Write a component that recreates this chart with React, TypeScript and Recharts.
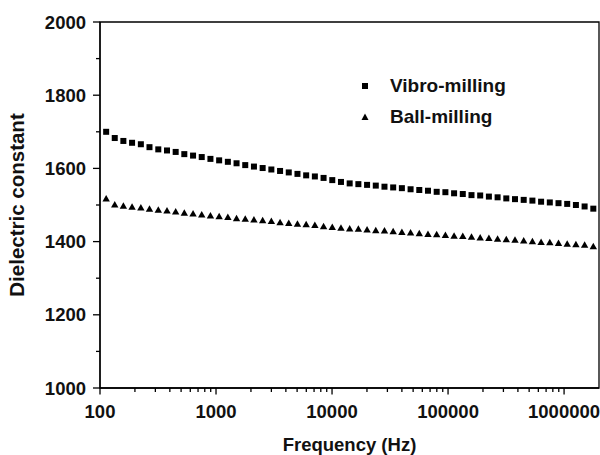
import React from "react";
import {
  ScatterChart,
  Scatter,
  XAxis,
  YAxis,
  Legend,
  ReferenceArea,
} from "recharts";

const frequencies = [
  113, 134, 159, 189, 225, 267, 318, 378, 449, 533, 634, 753, 895, 1064, 1265,
  1503, 1786, 2123, 2523, 2999, 3565, 4236, 5035, 5984, 7112, 8453, 10046,
  11940, 14191, 16866, 20045, 23823, 28314, 33651, 39994, 47534, 56494, 67143,
  79799, 94842, 112720, 133968, 159221, 189234, 224905, 267301, 317687, 377572,
  448745, 533335, 633870, 753356, 895365, 1064143, 1264736, 1503142, 1786488,
];

const vibroMilling = [
  1700, 1683, 1675, 1670, 1666, 1658, 1652, 1649, 1645, 1639, 1635, 1631, 1626,
  1622, 1618, 1614, 1609, 1605, 1601, 1597, 1593, 1589, 1585, 1581, 1578, 1574,
  1568, 1563, 1559, 1557, 1555, 1553, 1550, 1548, 1546, 1543, 1541, 1539, 1536,
  1535, 1532, 1530, 1527, 1526, 1523, 1521, 1518, 1516, 1514, 1512, 1509, 1507,
  1505, 1503, 1500, 1496, 1490,
];

const ballMilling = [
  1517, 1500, 1497, 1494, 1492, 1489, 1486, 1484, 1481, 1478, 1476, 1473, 1470,
  1468, 1466, 1463, 1461, 1459, 1457, 1455, 1452, 1450, 1448, 1446, 1444, 1441,
  1439, 1437, 1435, 1434, 1432, 1430, 1429, 1427, 1425, 1424, 1422, 1420, 1419,
  1417, 1415, 1414, 1412, 1410, 1409, 1407, 1405, 1404, 1402, 1400, 1398, 1397,
  1395, 1393, 1392, 1390, 1386,
];

const xMajorTicks = [100, 1000, 10000, 100000, 1000000];
const xMinorMultipliers = [2, 3, 4, 5, 6, 7, 8, 9];
const yTicks = [1000, 1100, 1200, 1300, 1400, 1500, 1600, 1700, 1800, 1900, 2000];
const yMajorTicks = [1000, 1200, 1400, 1600, 1800, 2000];

const seriesNames = ["Vibro-milling", "Ball-milling"];

const FONT = "'Liberation Sans', Arial, sans-serif";

const xAllTicks: number[] = [];
xMajorTicks.forEach((m) => {
  xAllTicks.push(m);
  if (m < 1000000) xMinorMultipliers.forEach((k) => xAllTicks.push(m * k));
});

const vibroData = frequencies.map((f, i) => ({ f, v: vibroMilling[i] }));
const ballData = frequencies.map((f, i) => ({ f, v: ballMilling[i] }));

const XTick = (props: any) => {
  const { x, y, payload } = props;
  const major = xMajorTicks.includes(payload.value);
  return (
    <g>
      <line x1={x} x2={x} y1={y} y2={y + (major ? 6.5 : 4)} stroke="#000" strokeWidth={1.3} />
      {major && (
        <text
          x={x}
          y={y + 30}
          textAnchor="middle"
          fontFamily={FONT}
          fontWeight="bold"
          fontSize={18.5}
          fill="#111"
        >
          {payload.value}
        </text>
      )}
    </g>
  );
};

const YTick = (props: any) => {
  const { x, y, payload } = props;
  const major = yMajorTicks.includes(payload.value);
  return (
    <g>
      <line x1={x - (major ? 7 : 4)} x2={x} y1={y} y2={y} stroke="#000" strokeWidth={1.3} />
      {major && (
        <text
          x={x - 14}
          y={y + 6.5}
          textAnchor="end"
          fontFamily={FONT}
          fontWeight="bold"
          fontSize={18.5}
          fill="#111"
        >
          {payload.value}
        </text>
      )}
    </g>
  );
};

const SquareShape = (props: any) => {
  const { cx, cy } = props;
  return <rect x={cx - 3} y={cy - 3} width={6} height={6} fill="#000" />;
};

const TriangleShape = (props: any) => {
  const { cx, cy } = props;
  return (
    <polygon
      points={`${cx},${cy - 3.9} ${cx - 3.7},${cy + 2.6} ${cx + 3.7},${cy + 2.6}`}
      fill="#000"
    />
  );
};

const LegendContent = () => (
  <div style={{ fontFamily: FONT, fontWeight: "bold", fontSize: 19, color: "#111" }}>
    {seriesNames.map((name, i) => (
      <div key={name} style={{ display: "flex", alignItems: "center", height: 31.5 }}>
        <svg width={26} height={12} style={{ marginRight: 6 }}>
          {i === 0 ? (
            <rect x={4} y={3} width={6} height={6} fill="#000" />
          ) : (
            <polygon points="7,2.5 3.5,9 10.5,9" fill="#000" />
          )}
        </svg>
        <span>{name}</span>
      </div>
    ))}
  </div>
);

export default function App() {
  return (
    <div style={{ position: "absolute", left: 0, top: 0, width: 600, height: 455, background: "#fff" }}>
      <ScatterChart
        width={600}
        height={455}
        margin={{ top: 22, right: 1, bottom: 0, left: 0 }}
      >
        <XAxis
          dataKey="f"
          type="number"
          scale="log"
          domain={[100, 2000000]}
          allowDataOverflow
          ticks={xAllTicks}
          interval={0}
          tickSize={0}
          tickMargin={0}
          tick={<XTick />}
          tickLine={false}
          axisLine={{ stroke: "#000", strokeWidth: 1.3 }}
          height={67}
          label={{
            value: "Frequency (Hz)",
            position: "insideBottom",
            offset: 4,
            style: { fontFamily: FONT, fontWeight: "bold", fontSize: 18.5, fill: "#111" },
          }}
        />
        <YAxis
          dataKey="v"
          type="number"
          domain={[1000, 2000]}
          allowDataOverflow
          ticks={yTicks}
          interval={0}
          tickSize={0}
          tickMargin={0}
          tick={<YTick />}
          tickLine={false}
          axisLine={{ stroke: "#000", strokeWidth: 1.3 }}
          width={100}
          label={{
            value: "Dielectric constant",
            angle: -90,
            position: "insideLeft",
            offset: 17,
            style: { textAnchor: "middle", fontFamily: FONT, fontWeight: "bold", fontSize: 20.5, fill: "#111" },
          }}
        />
        <ReferenceArea
          x1={100}
          x2={2000000}
          y1={1000}
          y2={2000}
          fill="none"
          stroke="#000"
          strokeWidth={1.3}
          ifOverflow="visible"
        />
        <Legend
          layout="vertical"
          align="center"
          verticalAlign="middle"
          content={<LegendContent />}
          wrapperStyle={{ top: 70, left: 358, width: "auto" }}
        />
        <Scatter
          name={seriesNames[0]}
          data={vibroData}
          shape={<SquareShape />}
          isAnimationActive={false}
        />
        <Scatter
          name={seriesNames[1]}
          data={ballData}
          shape={<TriangleShape />}
          isAnimationActive={false}
        />
      </ScatterChart>
    </div>
  );
}
